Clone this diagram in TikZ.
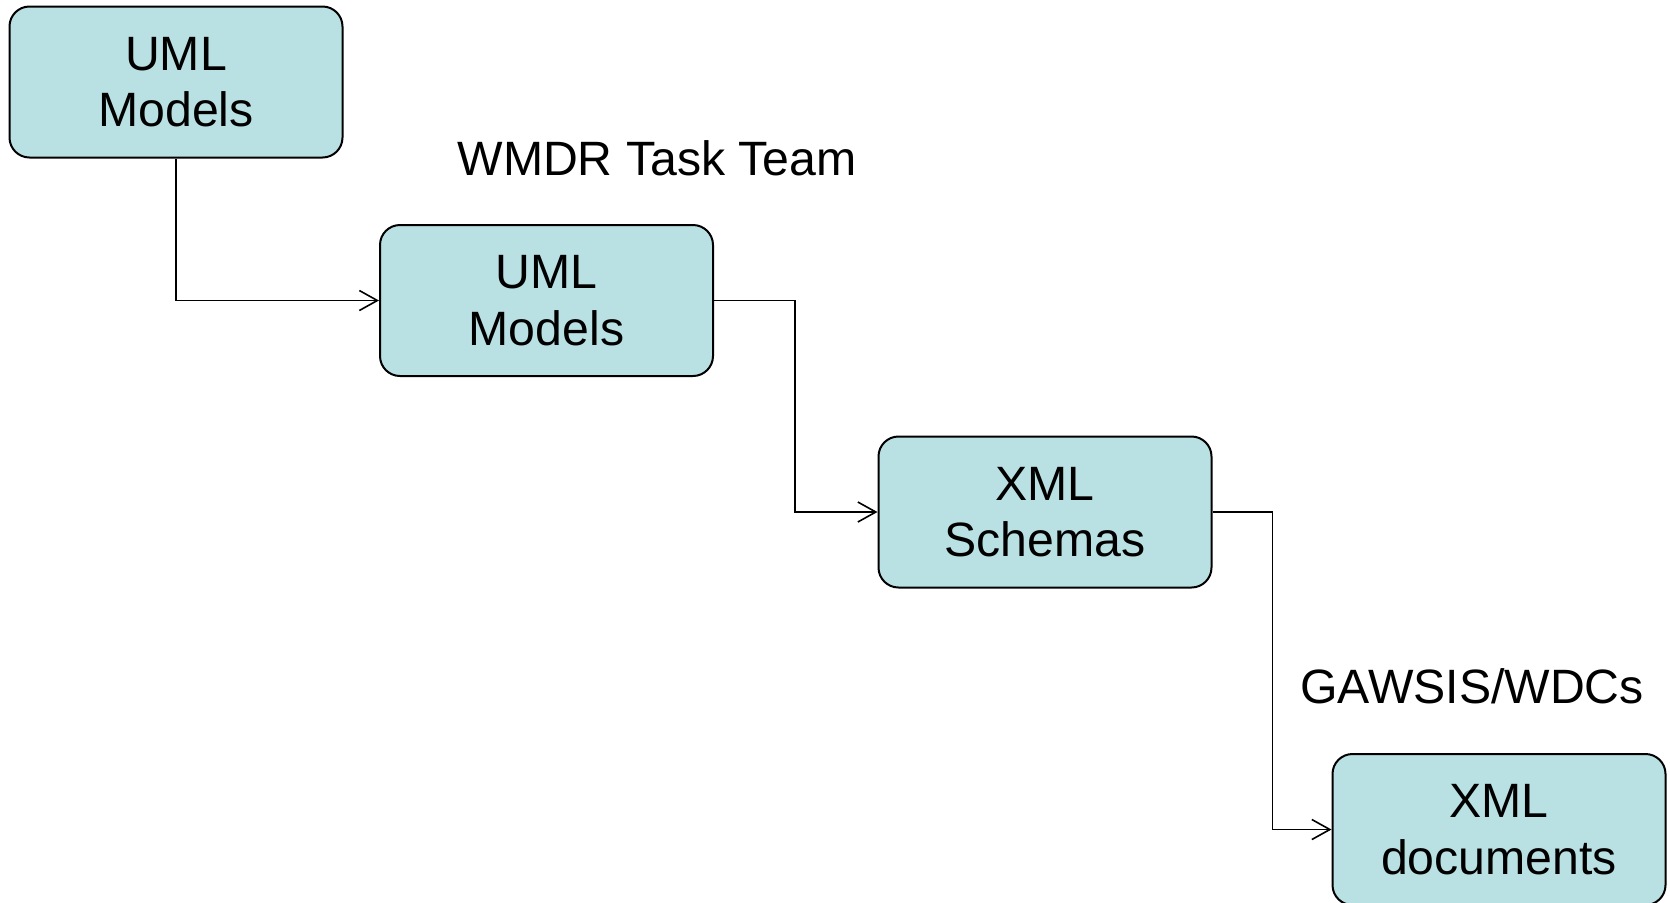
\documentclass[tikz,border=0pt]{standalone}
\usepackage{fontspec}
\setmainfont{Liberation Sans}
\usetikzlibrary{arrows.meta}
\definecolor{boxfill}{RGB}{185,224,227}
\tikzset{
  stage/.style={draw=black, line width=1pt, fill=boxfill, rounded corners=10pt,
    minimum width=166.5pt, minimum height=75.5pt, inner sep=0pt, align=center,
    font=\fontsize{24.1}{28.3}\selectfont},
  tag/.style={inner sep=0pt, font=\fontsize{24.1}{28.3}\selectfont},
  flow/.style={draw=black, line width=0.8pt, -{Straight Barb[length=9pt,width=10pt,line width=0.8pt]}}
}
\begin{document}
\begin{tikzpicture}[x=0.5pt, y=-0.5pt]
  \useasboundingbox (0,0) rectangle (1670,902);
  \node[stage] (b1) at (176,82) {UML\\Models};
  \node[stage] (b2) at (546.5,300.5) {UML\\Models};
  \node[stage] (b3) at (1045,512) {XML\\Schemas};
  \node[stage] (b4) at (1499,829.5) {XML\\documents};
  \node[tag] (t1) at (657,158) {WMDR Task Team};
  \node[tag] (t2) at (1472,686.5) {GAWSIS/WDCs};
  \coordinate (k1) at (795,300.5);
  \coordinate (k2) at (1272.5,512);
  \draw[flow] (b1.south) |- (b2.west);
  \draw[flow] (b2.east) -- (k1) |- (b3.west);
  \draw[flow] (b3.east) -- (k2) |- (b4.west);
\end{tikzpicture}
\end{document}
